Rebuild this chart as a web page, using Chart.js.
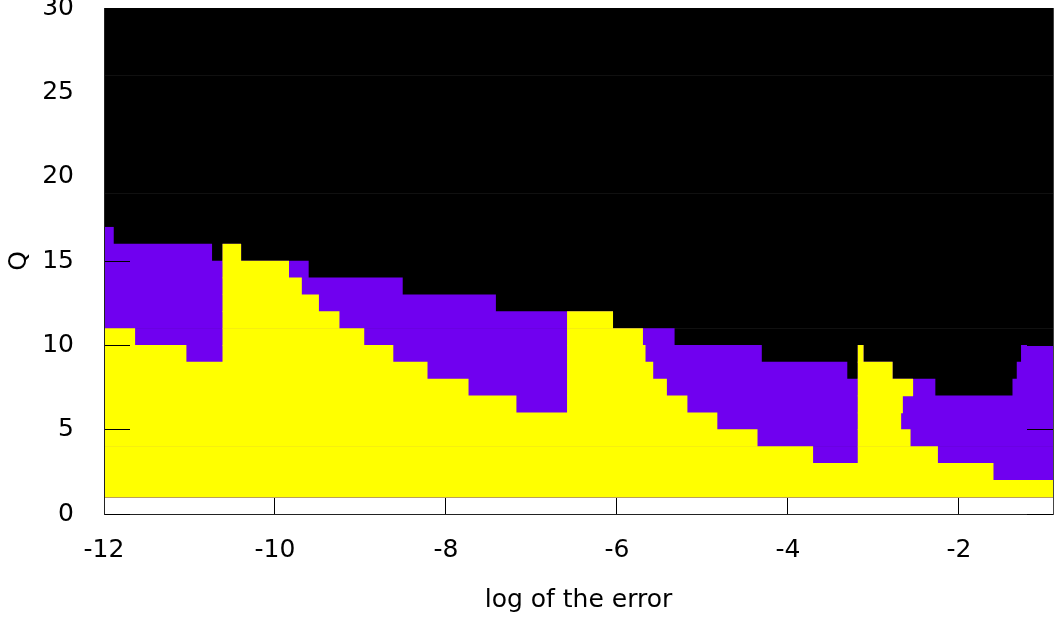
<!DOCTYPE html>
<html>
<head>
<meta charset="utf-8">
<script src="https://cdn.jsdelivr.net/npm/chart.js@4/dist/chart.umd.min.js"></script>
<style>
html,body{margin:0;padding:0;background:#fff;overflow:hidden}
canvas{display:block}
</style>
</head>
<body>
<canvas id="c" width="1055" height="619"></canvas>
<script>
// ---- data ----
const xTicks = [-12, -10, -8, -6, -4, -2];
const yTicks = [0, 5, 10, 15, 20, 25, 30];
const xMin = -12, xMax = -0.9;
const yMin = 0, yMax = 30;

// rows of the map: Q from q to q+1
const qRows = [1,2,3,4,5,6,7,8,9,10,11,12,13,14,15,16,17,18,19,20,21,22,23,24,25,26,27,28,29];

// purple region: [row, from, to]
const purpleSpans = [
  [1, -12, -0.9], [2, -12, -0.9], [3, -12, -0.9], [4, -12, -0.9], [5, -12, -0.9], [6, -12, -0.9],
  [7, -12, -2.28], [7, -1.37, -0.9],
  [8, -12, -3.31], [8, -3.18, -2.78], [8, -1.32, -0.9],
  [9, -12, -4.31], [9, -3.18, -3.12], [9, -1.27, -0.9],
  [10, -12, -5.33],
  [11, -12, -6.05],
  [12, -12, -7.42],
  [13, -12, -8.51],
  [14, -12, -9.61],
  [15, -12, -10.74], [15, -10.61, -10.40],
  [16, -12, -11.89]
];

// yellow region: [row, from, to]
const yellowSpans = [
  [1, -12, -0.9],
  [2, -12, -1.60],
  [3, -12, -3.71], [3, -3.18, -2.25],
  [4, -12, -4.36], [4, -3.18, -2.57],
  [5, -12, -4.83], [5, -3.18, -2.68],
  [6, -12, -7.18], [6, -6.58, -5.18], [6, -3.18, -2.66],
  [7, -12, -7.74], [7, -6.58, -5.42], [7, -3.18, -2.54],
  [8, -12, -8.22], [8, -6.58, -5.58], [8, -3.18, -2.78],
  [9, -12, -11.04], [9, -10.61, -8.62], [9, -6.58, -5.67], [9, -3.18, -3.12],
  [10, -12, -11.64], [10, -10.61, -8.96], [10, -6.58, -5.70],
  [11, -10.61, -9.25], [11, -6.58, -6.05],
  [12, -10.61, -9.49],
  [13, -10.61, -9.69],
  [14, -10.61, -9.84],
  [15, -10.61, -10.40]
];

// ---- chart ----
const FONT = { family: 'DejaVu Sans', size: 25 };
const toBars = spans => spans.map(([q, a, b]) => ({ y: q + 0.5, x: [a, b] }));
const blackBars = qRows.map(q => ({ y: q + 0.5, x: [xMin, xMax] }));
const zeroPad = s => { s.paddingLeft = 0; s.paddingRight = 0; s.paddingTop = 0; s.paddingBottom = 0; };

Chart.defaults.font.family = 'DejaVu Sans';
Chart.defaults.color = '#000';

new Chart(document.getElementById('c'), {
  type: 'bar',
  data: {
    datasets: [
      { label: 'yellow', data: toBars(yellowSpans), backgroundColor: '#ffff00', xAxisID: 'x', yAxisID: 'y' },
      { label: 'purple', data: toBars(purpleSpans), backgroundColor: '#7000f0', xAxisID: 'x', yAxisID: 'y' },
      { label: 'none', data: blackBars, backgroundColor: '#000000', xAxisID: 'x', yAxisID: 'y' }
    ]
  },
  options: {
    indexAxis: 'y',
    responsive: false,
    animation: false,
    devicePixelRatio: 1,
    layout: { padding: { top: 8, right: 2, left: 0, bottom: 0 } },
    datasets: { bar: { grouped: false, barPercentage: 1, categoryPercentage: 1, borderWidth: 0 } },
    plugins: { legend: { display: false }, tooltip: { enabled: false } },
    scales: {
      x: {
        type: 'linear', position: 'bottom', min: xMin, max: xMax, offset: false,
        afterBuildTicks: s => { s.ticks = xTicks.map(v => ({ value: v })); },
        afterFit: s => { s.height = 105; zeroPad(s); },
        grid: { drawOnChartArea: false, drawTicks: true, tickLength: -16, color: '#000', lineWidth: 1, z: 1, offset: false },
        border: { display: true, color: '#222', width: 1, z: 1 },
        ticks: { padding: 37, font: FONT, color: '#000', maxRotation: 0, autoSkip: false, callback: v => String(v) },
        title: { display: true, text: 'log of the error', font: FONT, color: '#000', padding: { top: 0, bottom: 4 } }
      },
      y: {
        type: 'linear', position: 'left', min: yMin, max: yMax, offset: false,
        afterBuildTicks: s => { s.ticks = yTicks.map(v => ({ value: v })); },
        afterFit: s => { s.width = 104; zeroPad(s); },
        grid: { drawOnChartArea: false, drawTicks: true, tickLength: -26, color: '#000', lineWidth: 1, z: 1, offset: false },
        border: { display: true, color: '#222', width: 1, z: 1 },
        ticks: { padding: 56, font: FONT, color: '#000', autoSkip: false, callback: v => String(v) },
        title: { display: true, text: 'Q', font: FONT, color: '#000', padding: { top: 4, bottom: 0 } }
      },
      y2: {
        type: 'linear', position: 'right', min: yMin, max: yMax, offset: false,
        afterBuildTicks: s => { s.ticks = yTicks.map(v => ({ value: v })); },
        afterFit: s => { s.width = 0; zeroPad(s); },
        grid: { drawOnChartArea: false, drawTicks: true, tickLength: -26, color: '#000', lineWidth: 1, z: 1, offset: false },
        border: { display: true, color: '#444', width: 1, z: 1 },
        ticks: { display: false }
      }
    }
  }
});
</script>
</body>
</html>
